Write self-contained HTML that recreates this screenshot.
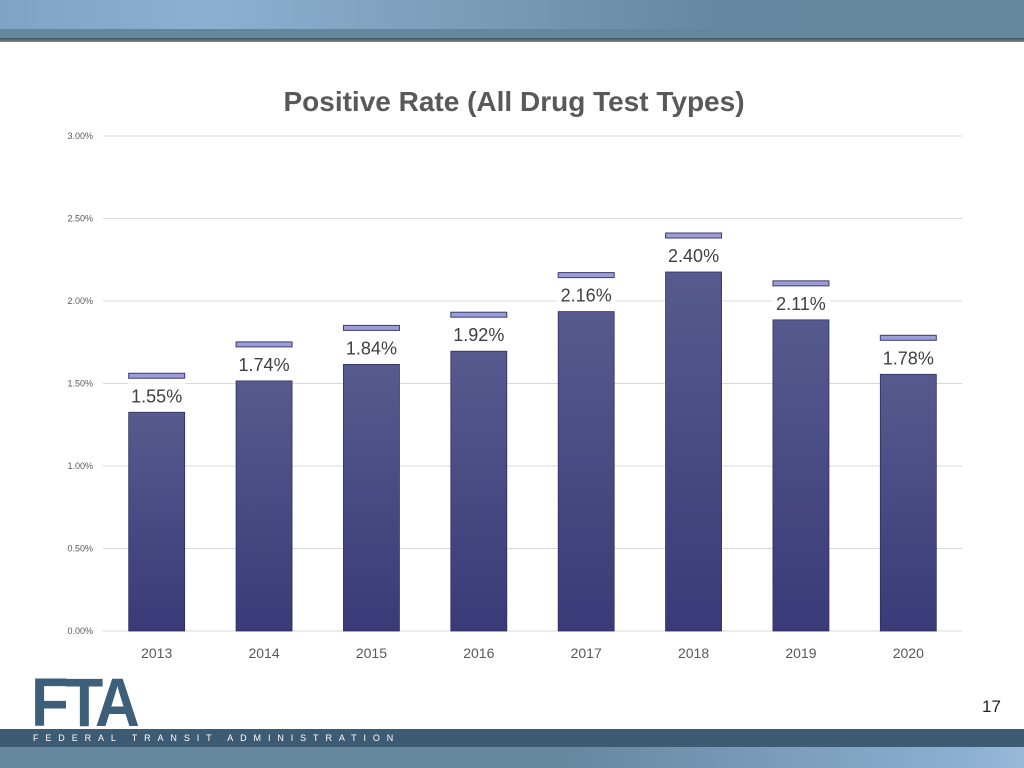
<!DOCTYPE html>
<html><head><meta charset="utf-8"><style>
body{margin:0;width:1024px;height:768px;overflow:hidden;background:#fff;font-family:"Liberation Sans",sans-serif;position:relative}
.abs{position:absolute}
</style></head><body>
<div class="abs" style="left:0;top:0;width:1024px;height:29px;background:linear-gradient(90deg,#7fa3c4 0%,#8db0d2 20%,#7b9db7 45%,#66879f 70%,#67879e 100%)"></div>
<div class="abs" style="left:0;top:29px;width:1024px;height:9px;background:#63879f"></div>
<div class="abs" style="left:0;top:38px;width:1024px;height:4px;background:linear-gradient(#4a5560,#7a8088)"></div>
<svg class="abs" style="left:0;top:0" width="1024" height="768">
<text x="514" y="111" text-anchor="middle" font-family="Liberation Sans, sans-serif" font-size="28" font-weight="bold" fill="#595959">Positive Rate (All Drug Test Types)</text>
<g id="grid"></g><g id="bars"></g>
</svg>
<div class="abs" style="left:31px;top:668px;font-family:'Liberation Sans',sans-serif;font-weight:bold;font-size:69px;color:#3e5f7a;letter-spacing:-4px;transform:scaleX(0.9);transform-origin:left;line-height:69px">FTA</div>
<div class="abs" style="left:0;top:729px;width:1024px;height:18px;background:#3e5b74"></div>
<div class="abs" style="left:33px;top:733px;font-size:9px;color:#fff;letter-spacing:6.9px">FEDERAL TRANSIT ADMINISTRATION</div>
<div class="abs" style="left:0;top:747px;width:1024px;height:21px;background:linear-gradient(90deg,#67879f 0%,#67879f 55%,#8db0d2 95%,#9ab9d8 100%)"></div>
<div class="abs" style="left:982px;top:697px;font-size:17px;color:#222">17</div>
<script>
const categories=["2013","2014","2015","2016","2017","2018","2019","2020"];
const values=[1.55,1.74,1.84,1.92,2.16,2.40,2.11,1.78];
const ticks=[0,0.5,1,1.5,2,2.5,3];
const NS="http://www.w3.org/2000/svg";
const x0=103,x1=962,yb=631,yt=136,ymax=3;
const y=v=>yb-(v/ymax)*(yb-yt);
const bw=(x1-x0)/categories.length;
const xc=i=>x0+bw*(i+0.5);
function mk(tag,a,p){const e=document.createElementNS(NS,tag);for(const k in a)e.setAttribute(k,a[k]);p.appendChild(e);return e;}
const g=document.getElementById('grid'),b=document.getElementById('bars');
ticks.forEach(t=>{
 const l=mk('line',{x1:x0,x2:x1,y1:y(t),y2:y(t),stroke:'#d9d9d9','stroke-width':1},g);
 
 
 const tx=mk('text',{x:93,y:y(t)+3,'text-anchor':'end','font-size':9,fill:'#595959'},g);
 tx.textContent=t.toFixed(2)+'%';
 
 
});
values.forEach((v,i)=>{
 const cx=xc(i),w=56,top=y(v)+37;
 const defs=mk('linearGradient',{id:'gr'+i,x1:0,x2:0,y1:0,y2:1},b);
 mk('stop',{offset:0,'stop-color':'#575a8e'},defs);mk('stop',{offset:1,'stop-color':'#3a3a78'},defs);
 const r=mk('rect',{x:cx-w/2,y:top,width:w,height:yb-top,fill:'url(#gr'+i+')',stroke:'#2e2f5e','stroke-width':0.8},b);
 
 
 const c=mk('rect',{x:cx-w/2,y:y(v)-2,width:w,height:5,fill:'#9c9cd8',stroke:'#3b3c6e','stroke-width':1},b);
 
 
 const lb=mk('rect',{x:cx-29,y:y(v)+8,width:58,height:24,fill:'#fff'},b);
 
 
 const t=mk('text',{x:cx,y:y(v)+27,'text-anchor':'middle','font-size':18,fill:'#404040'},b);
 t.textContent=v.toFixed(2)+'%';
 
 
 const xt=mk('text',{x:cx,y:658,'text-anchor':'middle','font-size':14,fill:'#595959'},b);
 xt.textContent=categories[i];
 
 
});
</script>
</body></html>
